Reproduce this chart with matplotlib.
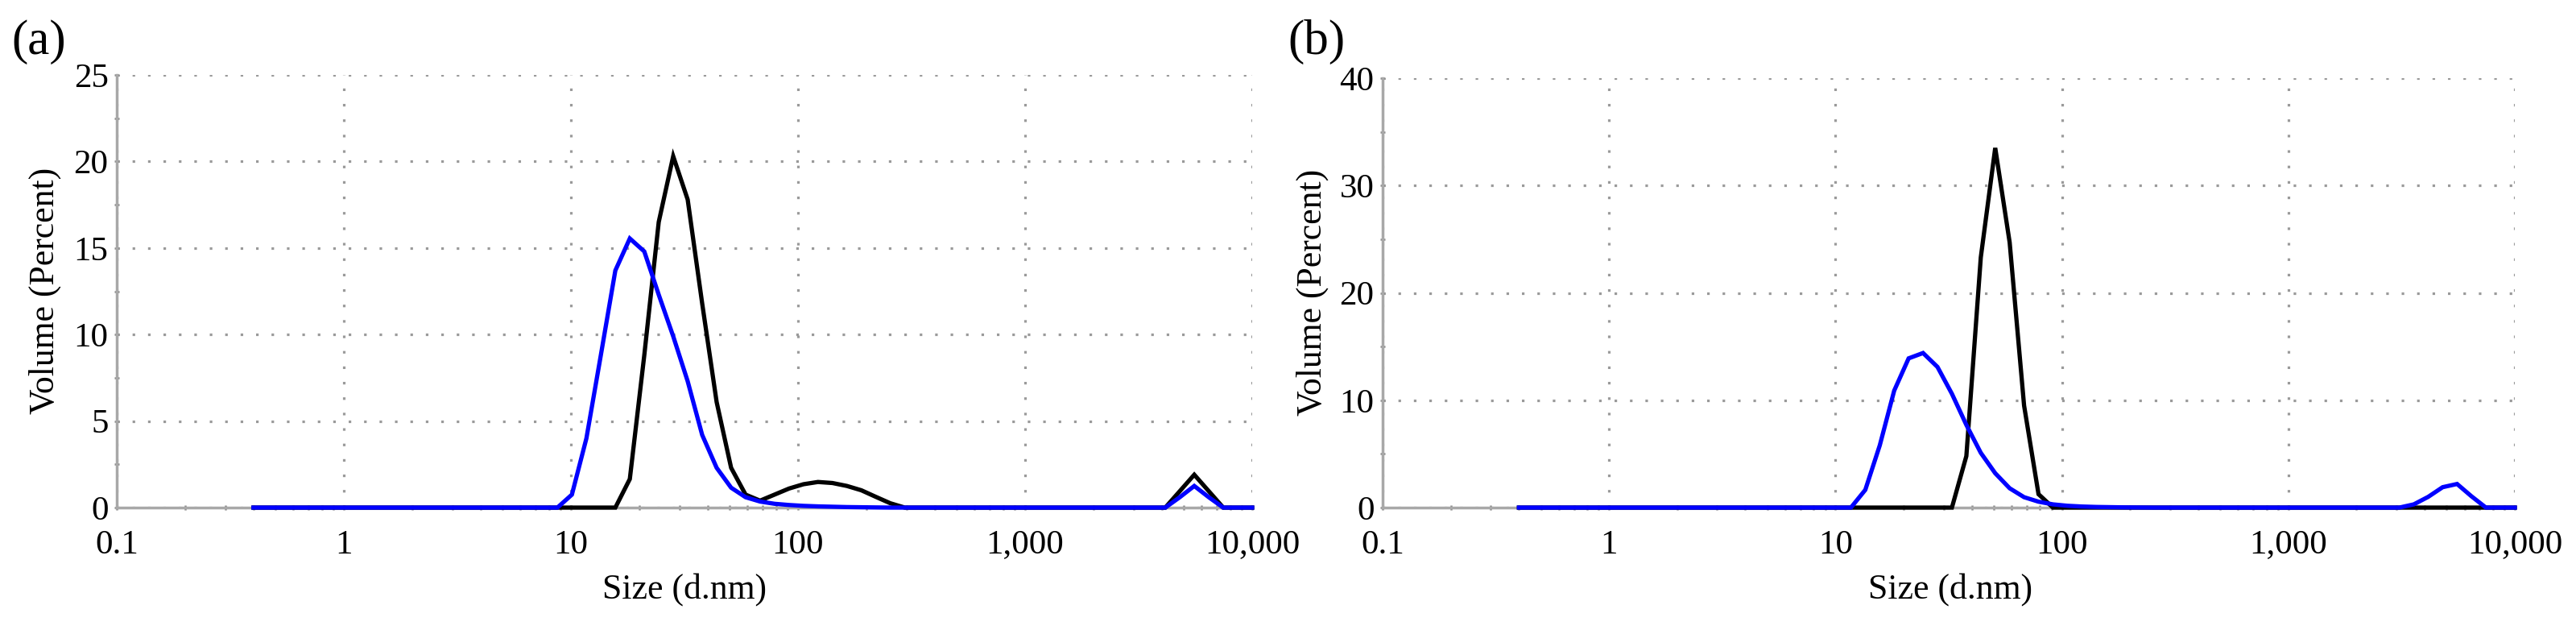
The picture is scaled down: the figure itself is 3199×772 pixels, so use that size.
import matplotlib
matplotlib.use('Agg')
import matplotlib.pyplot as plt
from matplotlib.ticker import FixedLocator, FixedFormatter, LogLocator, NullFormatter, MultipleLocator

# ---------------- data ----------------
sizes_nm = [0.4, 0.4632, 0.5365, 0.6213, 0.7195, 0.8332, 0.9649, 1.117, 1.294, 1.499,
            1.736, 2.010, 2.328, 2.696, 3.122, 3.615, 4.187, 4.849, 5.615, 6.503,
            7.531, 8.721, 10.10, 11.70, 13.54, 15.69, 18.17, 21.04, 24.36, 28.21,
            32.67, 37.84, 43.82, 50.75, 58.77, 68.06, 78.82, 91.28, 105.7, 122.4,
            141.8, 164.2, 190.1, 220.2, 255.0, 295.3, 342.0, 396.1, 458.7, 531.2,
            615.1, 712.4, 825.0, 955.4, 1106, 1281, 1484, 1718, 1990, 2305,
            2669, 3091, 3580, 4145, 4801, 5560, 6439, 7456, 8635, 10000]

vol_a_black = [0, 0, 0, 0, 0, 0, 0, 0, 0, 0,
               0, 0, 0, 0, 0, 0, 0, 0, 0, 0,
               0, 0, 0, 0, 0, 0, 1.65, 8.8, 16.5, 20.3,
               17.8, 11.8, 6.1, 2.3, 0.75, 0.4, 0.75, 1.1, 1.35, 1.48,
               1.42, 1.25, 1.0, 0.62, 0.25, 0, 0, 0, 0, 0,
               0, 0, 0, 0, 0, 0, 0, 0, 0, 0,
               0, 0, 0, 0, 0.95, 1.9, 0.95, 0, 0, 0]

vol_a_blue = [0, 0, 0, 0, 0, 0, 0, 0, 0, 0,
              0, 0, 0, 0, 0, 0, 0, 0, 0, 0,
              0, 0, 0.75, 4.0, 8.8, 13.7, 15.55, 14.8, 12.3, 9.9,
              7.3, 4.2, 2.3, 1.15, 0.6, 0.35, 0.22, 0.15, 0.1, 0.07,
              0.05, 0.03, 0.02, 0.01, 0, 0, 0, 0, 0, 0,
              0, 0, 0, 0, 0, 0, 0, 0, 0, 0,
              0, 0, 0, 0, 0.6, 1.25, 0.6, 0, 0, 0]

vol_b_black = [0, 0, 0, 0, 0, 0, 0, 0, 0, 0,
               0, 0, 0, 0, 0, 0, 0, 0, 0, 0,
               0, 0, 0, 0, 0, 0, 0, 0, 0, 0,
               0, 4.8, 23.3, 33.5, 24.7, 9.5, 1.25, 0, 0, 0,
               0, 0, 0, 0, 0, 0, 0, 0, 0, 0,
               0, 0, 0, 0, 0, 0, 0, 0, 0, 0,
               0, 0, 0, 0, 0, 0, 0, 0, 0, 0]

vol_b_blue = [0, 0, 0, 0, 0, 0, 0, 0, 0, 0,
              0, 0, 0, 0, 0, 0, 0, 0, 0, 0,
              0, 0, 0, 0, 1.65, 5.8, 10.9, 13.9, 14.4, 13.1,
              10.6, 7.7, 5.1, 3.2, 1.8, 0.97, 0.55, 0.3, 0.17, 0.1,
              0.06, 0.04, 0.02, 0.01, 0, 0, 0, 0, 0, 0,
              0, 0, 0, 0, 0, 0, 0, 0, 0, 0,
              0, 0, 0.3, 1.0, 1.9, 2.2, 1.05, 0, 0, 0]

x_ticks = [0.1, 1, 10, 100, 1000, 10000]
x_tick_labels = ["0.1", "1", "10", "100", "1,000", "10,000"]
y_ticks_a = [0, 5, 10, 15, 20, 25]
y_ticks_b = [0, 10, 20, 30, 40]
panel_labels = ["(a)", "(b)"]
x_label = "Size (d.nm)"
y_label = "Volume (Percent)"

# ---------------- style ----------------
plt.rcParams['font.family'] = ['Liberation Serif', 'DejaVu Serif']
W, H = 3199, 772
fig = plt.figure(figsize=(W / 100, H / 100), dpi=100)

GRAY = '#9a9a9a'
SPINE = '#a8a8a8'


def add_ax(left, right, top, bottom):
    return fig.add_axes([left / W, 1 - bottom / H, (right - left) / W, (bottom - top) / H])


def style(ax, yticks, yminor):
    ax.set_xscale('log')
    ax.set_xlim(x_ticks[0], x_ticks[-1])
    ax.set_ylim(yticks[0], yticks[-1])
    ax.xaxis.set_major_locator(FixedLocator(x_ticks))
    ax.xaxis.set_major_formatter(FixedFormatter(x_tick_labels))
    ax.xaxis.set_minor_locator(LogLocator(base=10, subs=[2, 3, 4, 5, 6, 7, 8, 9]))
    ax.xaxis.set_minor_formatter(NullFormatter())
    ax.yaxis.set_major_locator(FixedLocator(yticks))
    ax.yaxis.set_minor_locator(MultipleLocator(yminor))
    for s in ['top', 'right']:
        ax.spines[s].set_visible(False)
    for s in ['left', 'bottom']:
        ax.spines[s].set_color(SPINE)
        ax.spines[s].set_linewidth(2.5)
    ax.grid(True, which='major', color=GRAY, linestyle=(0, (1, 5)), linewidth=2.3)
    ax.set_axisbelow(True)
    ax.tick_params(which='both', direction='inout', color='#8a8a8a', width=1.8,
                   labelsize=31, labelcolor='black')
    ax.tick_params(which='major', length=5)
    ax.tick_params(which='minor', length=4)
    ax.tick_params(axis='y', pad=5)
    ax.tick_params(axis='x', pad=17)


ax_a = add_ax(145, 1555, 93, 630)
ax_b = add_ax(1717, 3123, 97, 630)
style(ax_a, y_ticks_a, 2.5)
style(ax_b, y_ticks_b, 5)

for ax, blk, blu in [(ax_a, vol_a_black, vol_a_blue), (ax_b, vol_b_black, vol_b_blue)]:
    ax.plot(sizes_nm, blk, color='#000000', linewidth=3.8, zorder=3, clip_on=False,
            solid_joinstyle='miter')
    ax.plot(sizes_nm, blu, color='#0000ff', linewidth=3.8, zorder=4, clip_on=False,
            solid_joinstyle='miter')

# labels
fig.text(48 / W, 1 - 52 / H, panel_labels[0], fontsize=44, ha='center', va='center')
fig.text(1635 / W, 1 - 52 / H, panel_labels[1], fontsize=44, ha='center', va='center')
fig.text(56 / W, 1 - 361 / H, y_label, fontsize=31.5, rotation=90, ha='center', va='center')
fig.text(1630 / W, 1 - 363 / H, y_label, fontsize=31.5, rotation=90, ha='center', va='center')
fig.text(850 / W, 1 - 732 / H, x_label, fontsize=31.5, ha='center', va='center')
fig.text(2422 / W, 1 - 732 / H, x_label, fontsize=31.5, ha='center', va='center')

fig.savefig('out.png', dpi=100, facecolor='white')
